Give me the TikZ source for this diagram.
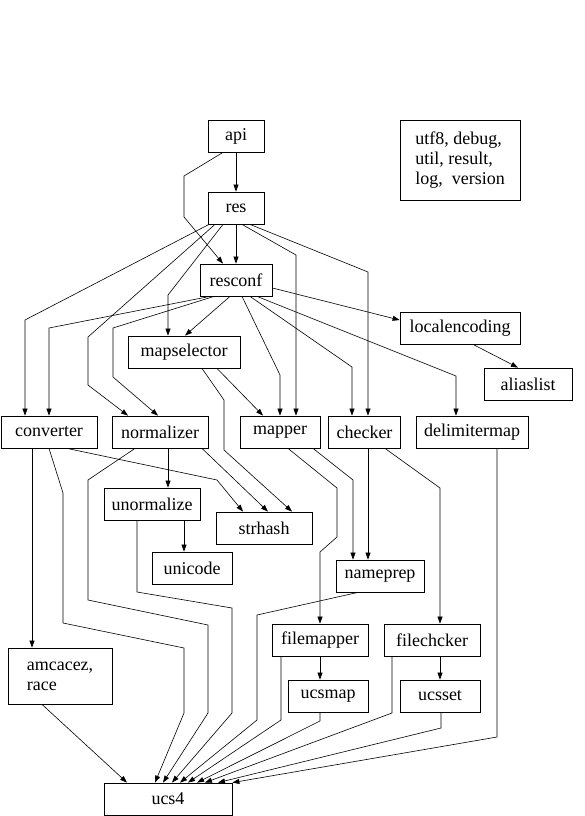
\documentclass[tikz,border=0pt]{standalone}
\usepackage{fontspec}
\setmainfont{Liberation Serif}
\usetikzlibrary{arrows.meta}
\begin{document}
\begin{tikzpicture}[x=1pt,y=-1pt,
  box/.style={draw,line width=0.8pt,inner sep=0pt,minimum height=32pt,font=\fontsize{18}{20}\selectfont},
  edge/.style={line width=0.6pt,-{Triangle[length=7pt,width=5pt]}},
  ]
\useasboundingbox (0,0) rectangle (585,816);
% nodes
\node[box,minimum width=56pt] (api) at (236,136) {api};
\node[box,minimum width=56pt] (res) at (236,208) {res};
\node[box,minimum width=120pt,minimum height=80pt,align=left] (misc) at (460,160) {utf8, debug,\\util, result,\\log,\ \ version};
\node[box,minimum width=72pt] (resconf) at (236,280) {resconf};
\node[box,minimum width=120pt] (localenc) at (460,328) {localencoding};
\node[box,minimum width=88pt] (alias) at (528,384) {aliaslist};
\node[box,minimum width=112pt] (mapsel) at (184,352) {mapselector};
\node[box,minimum width=96pt] (conv) at (49,432) {converter};
\node[box,minimum width=96pt] (norm) at (160,432) {normalizer};
\node[box,minimum width=80pt] (mapper) at (280,432) {mapper};
\node[box,minimum width=72pt] (checker) at (364.5,432) {checker};
\node[box,minimum width=112pt] (delim) at (472,432) {delimitermap};
\node[box,minimum width=96pt] (unorm) at (152,504) {unormalize};
\node[box,minimum width=96pt] (strhash) at (264,528) {strhash};
\node[box,minimum width=80pt] (unicode) at (192,568) {unicode};
\node[box,minimum width=88pt] (nameprep) at (380,576) {nameprep};
\node[box,minimum width=96pt] (filemapper) at (320,640) {filemapper};
\node[box,minimum width=96pt] (filechcker) at (432,640) {filechcker};
\node[box,minimum width=80pt] (ucsmap) at (328,696) {ucsmap};
\node[box,minimum width=80pt] (ucsset) at (440,696) {ucsset};
\node[box,minimum width=104pt,minimum height=56pt,align=left] (amc) at (60,676) {amcacez,\\race};
\node[box,minimum width=128pt] (ucs) at (168,799) {ucs4};
% edges from api
\draw[edge] (api.south) -- (res.north);
\draw[edge] ([xshift=-13pt]api.south) -- (184,176) -- (184,217) -- ([xshift=-13pt]resconf.north);
% edges from res
\draw[edge] (res.south) -- (resconf.north);
\draw[edge] ([xshift=-27pt]res.south) -- (25,320) -- ([xshift=-24pt]conv.north);
\draw[edge] ([xshift=-21pt]res.south) -- (88,337) -- (88,385) -- ([xshift=-32pt]norm.north);
\draw[edge] ([xshift=-13pt]res.south) -- (168,295) -- ([xshift=-16pt]mapsel.north);
\draw[edge] ([xshift=6pt]res.south) -- (296,255) -- ([xshift=16pt]mapper.north);
\draw[edge] ([xshift=14pt]res.south) -- (368,272) -- ([xshift=3.5pt]checker.north);
% edges from resconf
\draw[edge] ([xshift=-26pt]resconf.south) -- (49,328) -- (conv.north);
\draw[edge] ([xshift=-22pt]resconf.south) -- (113,328) -- (113,377) -- ([xshift=-2pt]norm.north);
\draw[edge] ([xshift=-6pt]resconf.south) -- ([xshift=1pt]mapsel.north);
\draw[edge] ([xshift=6pt]resconf.south) -- (280,375) -- (mapper.north);
\draw[edge] ([xshift=14pt]resconf.south) -- (352,367) -- ([xshift=-12.5pt]checker.north);
\draw[edge] ([xshift=21pt]resconf.south) -- (456,376) -- ([xshift=-16pt]delim.north);
\draw[edge] ([yshift=-8pt]resconf.east) -- ([yshift=8pt]localenc.west);
\draw[edge] ([xshift=13pt]localenc.south) -- ([xshift=-10pt]alias.north);
% mapselector
\draw[edge] ([xshift=33pt]mapsel.south) -- ([xshift=-17pt]mapper.north);
\draw[edge] ([xshift=18pt]mapsel.south) -- (224,400) -- (224,450) -- ([xshift=28pt]strhash.north);
% converter
\draw[edge] ([xshift=-17pt]conv.south) -- ([xshift=-28pt]amc.north);
\draw[edge] (conv.south) -- (63,493) -- (63,623) -- (184,648) -- (184,713) -- ([xshift=-13pt]ucs.north);
\draw[edge] ([xshift=18pt]conv.south) -- (217,480) -- ([xshift=-21pt]strhash.north);
% normalizer
\draw[edge] ([xshift=8pt]norm.south) -- ([xshift=16pt]unorm.north);
\draw[edge] ([xshift=42pt]norm.south) -- ([xshift=4pt]strhash.north);
\draw[edge] ([xshift=-25pt]norm.south) -- (88,480) -- (88,600) -- (208,625) -- (208,713) -- ([xshift=-5pt]ucs.north);
% unormalize
\draw[edge] ([xshift=32pt]unorm.south) -- ([xshift=-8pt]unicode.north);
\draw[edge] ([xshift=-15pt]unorm.south) -- (137,592) -- (232,608) -- (232,713) -- ([xshift=4pt]ucs.north);
% mapper
\draw[edge] ([xshift=8pt]mapper.south) -- (337,488) -- (337,537) -- (320,552) -- (filemapper.north);
\draw[edge] ([xshift=33pt]mapper.south) -- (353,480) -- ([xshift=-27pt]nameprep.north);
% checker
\draw[edge] ([xshift=3.5pt]checker.south) -- ([xshift=-12pt]nameprep.north);
\draw[edge] ([xshift=20.5pt]checker.south) -- (440,488) -- ([xshift=8pt]filechcker.north);
% nameprep
\draw[edge] ([xshift=-22pt]nameprep.south) -- (257,615) -- (257,720) -- ([xshift=12pt]ucs.north);
% filemapper
\draw[edge] (filemapper.south) -- ([xshift=-8pt]ucsmap.north);
\draw[edge] ([xshift=-39pt]filemapper.south) -- (281,720) -- ([xshift=20pt]ucs.north);
% ucsmap
\draw[edge] ([xshift=-8pt]ucsmap.south) -- (320,721) -- ([xshift=29pt]ucs.north);
% filechcker
\draw[edge] ([xshift=8pt]filechcker.south) -- (ucsset.north);
\draw[edge] ([xshift=-40pt]filechcker.south) -- (392,713) -- ([xshift=37pt]ucs.north);
% ucsset
\draw[edge] ([xshift=1pt]ucsset.south) -- (441,728) -- ([xshift=50pt]ucs.north);
% delimitermap
\draw[edge] ([xshift=25pt]delim.south) -- (497,737) -- (ucs.north east);
% amcacez
\draw[edge] ([xshift=-18pt]amc.south) -- ([xshift=-41pt]ucs.north);
\end{tikzpicture}
\end{document}
